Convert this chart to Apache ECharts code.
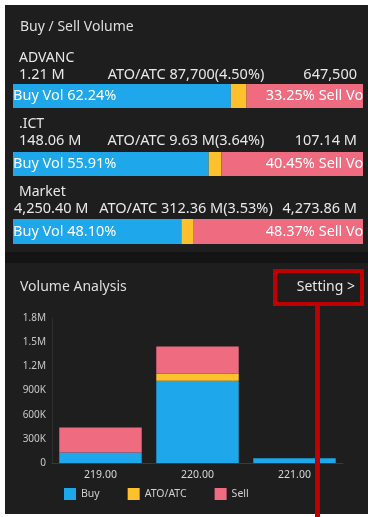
<!DOCTYPE html>
<html>
<head>
<meta charset="utf-8">
<script src="https://cdn.jsdelivr.net/npm/echarts@6/dist/echarts.min.js"></script>
<style>
  html, body { margin: 0; padding: 0; background: #ffffff; }
  #chart { width: 368px; height: 517px; }
</style>
</head>
<body>
<div id="chart"></div>
<script>
// Buy / Sell summary per symbol
const symbols = ['ADVANC', '.ICT', 'Market'];
const buyTotals = ['1.21 M', '148.06 M', '4,250.40 M'];
const atoTotals = ['87,700(4.50%)', '9.63 M(3.64%)', '312.36 M(3.53%)'];
const sellTotals = ['647,500', '107.14 M', '4,273.86 M'];
const buyPct = [62.24, 55.91, 48.10];
const atoPct = [4.50, 3.64, 3.53];
const sellPct = [33.25, 40.45, 48.37];

// Volume analysis by price (ADVANC)
const prices = ['219.00', '220.00', '221.00'];
const buyVol = [130000, 1020000, 60000];
const atoVol = [0, 87700, 0];
const sellVol = [310000, 337500, 0];
const volTicks = ['0', '300K', '600K', '900K', '1.2M', '1.5M', '1.8M'];

const BLUE = '#1ea7ea', YELLOW = '#fcc12d', PINK = '#ef6b80';
const PANEL = '#1e1e1e', FONT = '"Noto Sans", "Open Sans", sans-serif';

const rowTops = [84, 152, 219];
const rowHeights = [24, 24, 25];
const nameY = [58, 124, 192];
const valueY = [75, 141, 209];

const grids = [], xAxes = [], yAxes = [], series = [];
symbols.forEach((s, i) => {
  grids.push({ left: 13, right: 5, top: rowTops[i], height: rowHeights[i] });
  xAxes.push({ type: 'value', gridIndex: i, min: 0, max: 100, show: false });
  yAxes.push({ type: 'category', gridIndex: i, data: [s], show: false });
  const parts = [
    { v: buyPct[i], c: BLUE, label: { show: true, position: 'insideLeft', distance: 0,
        formatter: 'Buy Vol ' + buyPct[i].toFixed(2) + '%' } },
    { v: atoPct[i], c: YELLOW, label: { show: false } },
    { v: sellPct[i], c: PINK, label: { show: true, position: 'insideRight', distance: -4,
        formatter: sellPct[i].toFixed(2) + '% Sell Vol' } }
  ];
  parts.forEach(p => {
    series.push({
      type: 'bar', xAxisIndex: i, yAxisIndex: i, stack: 'row' + i,
      data: [p.v], barWidth: '100%', itemStyle: { color: p.c },
      label: Object.assign({ color: '#ffffff', fontSize: 14.5, fontFamily: FONT }, p.label),
      silent: true, animation: false
    });
  });
});

// Volume-by-price grid
const vg = grids.length;
grids.push({ left: 52, right: 25, top: 318, bottom: 54 });
xAxes.push({
  type: 'category', gridIndex: vg, data: prices,
  axisLine: { lineStyle: { color: '#3a3a3a' } }, axisTick: { show: false },
  axisLabel: { color: '#d8d8d8', fontSize: 10.5, fontFamily: FONT, margin: 7 }
});
yAxes.push({
  type: 'value', gridIndex: vg, min: 0, max: 1800000, interval: 300000,
  axisLine: { show: true, lineStyle: { color: '#2e2e2e' } }, axisTick: { show: false },
  splitLine: { show: false },
  axisLabel: { color: '#c8c8c8', fontSize: 10, fontFamily: FONT, margin: 6,
    formatter: v => volTicks[Math.round(v / 300000)] }
});
[['Buy', buyVol, BLUE], ['ATO/ATC', atoVol, YELLOW], ['Sell', sellVol, PINK]].forEach(([n, d, c]) => {
  series.push({
    name: n, type: 'bar', xAxisIndex: vg, yAxisIndex: vg, stack: 'vol',
    data: d, barWidth: '85%', itemStyle: { color: c }, animation: false
  });
});

const texts = [];
const txt = (x, y, t, size, color, align) => ({
  type: 'text', x, y, z: 10,
  style: { text: t, fill: color, font: size + 'px ' + FONT, textAlign: align || 'left', textVerticalAlign: 'middle' }
});
texts.push(txt(20, 27, 'Buy / Sell Volume', 14, '#dedede'));
symbols.forEach((s, i) => {
  texts.push(txt(19, nameY[i], s, 14, '#e8e8e8'));
  texts.push(txt(i === 2 ? 14 : 19, valueY[i], buyTotals[i], 14.5, '#e8e8e8'));
  texts.push(txt(186, valueY[i], 'ATO/ATC ' + atoTotals[i], 14.5, '#e8e8e8', 'center'));
  texts.push(txt(357, valueY[i], sellTotals[i], 14.5, '#e8e8e8', 'right'));
});
texts.push(txt(20, 287, 'Volume Analysis', 14, '#dedede'));
texts.push(txt(355, 287, 'Setting >', 14, '#e8e8e8', 'right'));

const chart = echarts.init(document.getElementById('chart'), null, { renderer: 'canvas' });
chart.setOption({
  backgroundColor: '#ffffff',
  animation: false,
  grid: grids, xAxis: xAxes, yAxis: yAxes, series,
  legend: {
    data: ['Buy', 'ATO/ATC', 'Sell'], left: 59, top: 483,
    itemWidth: 12, itemHeight: 12, itemGap: 28, icon: 'rect',
    textStyle: { color: '#d0d0d0', fontSize: 10.5, fontFamily: FONT }
  },
  graphic: [
    { type: 'rect', z: -10, shape: { x: 5, y: 5, width: 363, height: 509 }, style: { fill: '#141414' } },
    { type: 'rect', z: -9, shape: { x: 5, y: 5, width: 363, height: 247 }, style: { fill: PANEL } },
    { type: 'rect', z: -9, shape: { x: 5, y: 263, width: 363, height: 251 }, style: { fill: PANEL } },
    // trims the sell labels at the right edge of the bars
    { type: 'rect', z: 100, shape: { x: 364, y: 80, width: 4, height: 170 }, style: { fill: PANEL } },
    { type: 'rect', z: 100, shape: { x: 275, y: 271, width: 87, height: 33 },
      style: { fill: 'none', stroke: '#c00000', lineWidth: 4 } },
    { type: 'rect', z: 100, shape: { x: 315, y: 306, width: 5, height: 211 }, style: { fill: '#c00000' } }
  ].concat(texts)
});
</script>
</body>
</html>
